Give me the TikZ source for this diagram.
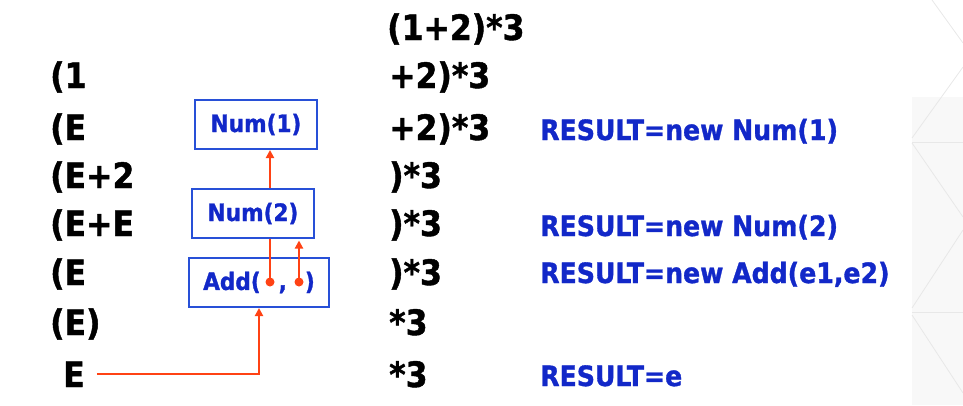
\documentclass[tikz,border=0pt]{standalone}
\usepackage{fontspec}
\setmainfont{DejaVu Sans Condensed Bold}[FakeBold=1.2]
\usetikzlibrary{arrows.meta}
\definecolor{txtblue}{RGB}{18,40,200}
\definecolor{boxblue}{RGB}{40,80,215}
\definecolor{arrred}{RGB}{255,66,20}
\definecolor{bggrey}{RGB}{248,248,248}
\definecolor{bgline}{RGB}{232,232,232}
\tikzset{
  blk/.style={inner sep=0pt, anchor=base west, font=\fontsize{35}{35}\selectfont, text=black},
  blu/.style={inner sep=0pt, anchor=base west, font=\fontsize{28}{28}\selectfont, text=txtblue},
  objbox/.style={draw=boxblue, line width=2pt, minimum height=49pt, inner sep=0pt, text=txtblue, font=\fontsize{24}{24}\selectfont},
  redline/.style={draw=arrred, line width=2pt},
  redarrow/.style={redline, -{Triangle[length=8pt,width=8pt]}},
  dotn/.style={circle, fill=arrred, inner sep=0pt, minimum size=9pt}
}
\begin{document}
\begin{tikzpicture}[x=1pt,y=-1pt]
\useasboundingbox (0,0) rectangle (963,405);
% background decoration
\fill[bggrey] (912,97) rectangle (963,405);
\draw[bgline, line width=0.8pt] (932,0) -- (963,43);
\draw[bgline, line width=0.8pt] (963,67) -- (912,138);
\draw[bgline, line width=0.8pt] (912,142) -- (963,142);
\draw[bgline, line width=0.8pt] (912,143) -- (963,217);
\draw[bgline, line width=0.8pt] (963,230) -- (912,308);
\draw[bgline, line width=0.8pt] (912,312) -- (963,312);
\draw[bgline, line width=0.8pt] (912,315) -- (963,393);
% left column (stack)
\node[blk] (l1) at (50,88) {(1};
\node[blk] (l2) at (50,140) {(E};
\node[blk] (l3) at (50,188) {(E+2};
\node[blk] (l4) at (50,236) {(E+E};
\node[blk] (l5) at (50,285) {(E};
\node[blk] (l6) at (50,335) {(E)};
\node[blk] (l7) at (63,387) {E};
% middle column (input)
\node[blk] (m0) at (387,40) {(1+2)*3};
\node[blk] (m1) at (389,88) {+2)*3};
\node[blk] (m2) at (389,140) {+2)*3};
\node[blk] (m3) at (389,188) {)*3};
\node[blk] (m4) at (389,236) {)*3};
\node[blk] (m5) at (389,285) {)*3};
\node[blk] (m6) at (389,335) {*3};
\node[blk] (m7) at (389,387) {*3};
% right column (actions)
\node[blu] (r2) at (540,140) {RESULT=new Num(1)};
\node[blu] (r4) at (540,236) {RESULT=new Num(2)};
\node[blu] (r5) at (540,283) {RESULT=new Add(e1,e2)};
\node[blu] (r7) at (540,386) {RESULT=e};
% object boxes
\node[objbox, minimum width=122pt] (b1) at (256,124.5) {Num(1)};
\node[objbox, minimum width=122pt] (b2) at (253,213.5) {Num(2)};
\node[objbox, minimum width=140pt] (b3) at (259,282.5) {Add(\hspace{18pt},\hspace{18pt})};
\node[dotn] (d1) at (270,282) {};
\node[dotn] (d2) at (299,282) {};
% connectors
\draw[redarrow] (d1 |- b2.north) -- (d1 |- b1.south);
\draw[redline] (d1.center) -- (d1 |- b2.south);
\draw[redarrow, shorten >=1.5pt] (d2.center) -- (d2 |- b2.south);
\draw[redarrow, shorten <=12pt] (l7.east) -| (b3.south);
\end{tikzpicture}
\end{document}
